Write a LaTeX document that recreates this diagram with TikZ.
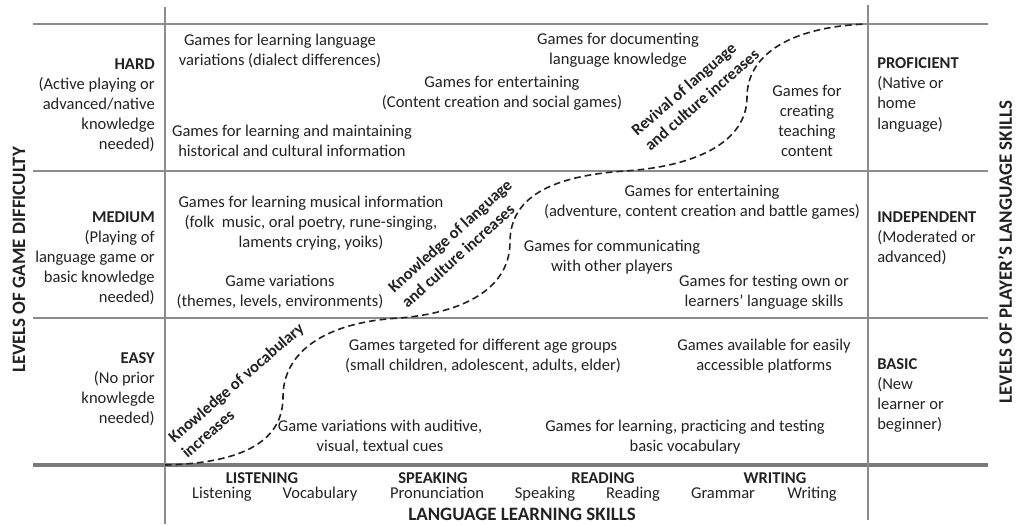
\documentclass[tikz,border=0pt]{standalone}
\usepackage{fontspec}
\setmainfont{Carlito}
\definecolor{ink}{HTML}{222222}
\definecolor{rule}{HTML}{8C8C8C}
\definecolor{baserule}{HTML}{7A7A7A}

\begin{document}
\begin{tikzpicture}[x = 0.75pt, y = -0.75pt,
    every node/.style = {inner sep = 0pt, text = ink, font = \fontsize{12.4}{15}\selectfont},
    game/.style = {align = center},
    level/.style = {align = right, anchor = east},
    skill/.style = {align = left, anchor = west},
    head/.style = {anchor = base, font = \fontsize{12.4}{15}\selectfont\bfseries},
    sub/.style = {anchor = base},
    axis/.style = {font = \fontsize{14.2}{17}\selectfont\bfseries},
    trend/.style = {align = left, anchor = west, font = \fontsize{12.4}{15}\selectfont\bfseries},
    grid/.style = {draw = rule, line width = 2.2pt},
    growth/.style = {draw = ink, line width = 1.2pt, dash pattern = on 5pt off 3pt}]
  \useasboundingbox (0,0) rectangle (1019,524);

  \draw[grid] (33,24) -- (988,24);
  \draw[grid] (33,171) -- (988,171);
  \draw[grid] (33,318) -- (988,318);
  \draw[grid, draw = baserule, line width = 3pt] (33,465) -- (988,465);
  \draw[grid] (165,7) -- (165,524);
  \draw[grid] (868,5) -- (868,520);

  \draw[growth] (165,465) .. controls (245,463) and (283,440) .. (283,397)
    .. controls (283,352) and (325,322) .. (400,318)
    .. controls (470,312) and (510,285) .. (510,242)
    .. controls (510,198) and (550,176) .. (625,171)
    .. controls (700,166) and (747,140) .. (747,97)
    .. controls (747,55) and (790,27) .. (866,24);

  \node[axis, rotate = 90] (difficulty) at (19,260) {LEVELS OF GAME DIFFICULTY};
  \node[axis, rotate = 90] (proficiency) at (1005,252) {LEVELS OF PLAYER'S LANGUAGE SKILLS};
  \node[axis, anchor = base] (skills) at (522,520) {LANGUAGE LEARNING SKILLS};

  \node[level] (hard) at (155,105) {\textbf{HARD}\\(Active playing or\\advanced/native\\knowledge\\needed)};
  \node[level] (medium) at (155,258) {\textbf{MEDIUM}\\(Playing of\\language game or\\basic knowledge\\needed)};
  \node[level] (easy) at (155,389) {\textbf{EASY}\\(No prior\\knowlegde\\needed)};
  \node[skill] (proficient) at (877,95) {\textbf{PROFICIENT}\\(Native or\\home\\language)};
  \node[skill] (independent) at (877,238) {\textbf{INDEPENDENT}\\(Moderated or\\advanced)};
  \node[skill] (basic) at (877,395) {\textbf{BASIC}\\(New\\learner or\\beginner)};

  \node[game] (dialect) at (280,51) {Games for learning language\\variations (dialect differences)};
  \node[game] (social) at (502,93) {Games for entertaining\\(Content creation and social games)};
  \node[game] (history) at (292,141) {Games for learning and maintaining\\historical and cultural information};
  \node[game] (document) at (618,50) {Games for documenting\\language knowledge};
  \node[game] (teaching) at (807,121) {Games for\\creating\\teaching\\content};
  \node[game] (music) at (311,223) {Games for learning musical information\\(folk\ \ music, oral poetry, rune-singing,\\laments crying, yoiks)};
  \node[game] (themes) at (280,292) {Game variations\\(themes, levels, environments)};
  \node[game] (battle) at (702,202) {Games for entertaining\\(adventure, content creation and battle games)};
  \node[game] (players) at (612,257) {Games for communicating\\with other players};
  \node[game] (testing) at (764,292) {Games for testing own or\\learners' language skills};
  \node[game] (ages) at (483,356) {Games targeted for different age groups\\(small children, adolescent, adults, elder)};
  \node[game] (platforms) at (764,356) {Games available for easily\\accessible platforms};
  \node[game] (cues) at (380,437) {Game variations with auditive,\\visual, textual cues};
  \node[game] (vocab) at (685,437) {Games for learning, practicing and testing\\basic vocabulary};

  \node[trend, rotate = 41] (vocabulary) at (177,447) {Knowledge of vocabulary\\increases};
  \node[trend, rotate = 42] (culture) at (397,297) {Knowledge of language\\and culture increases};
  \node[trend, rotate = 41] (revival) at (640,140) {Revival of language\\and culture increases};

  \node[head] (listening) at (262,483) {LISTENING};
  \node[head] (speaking) at (433,483) {SPEAKING};
  \node[head] (reading) at (603,483) {READING};
  \node[head] (writing) at (775,483) {WRITING};
  \node[sub] (listen) at (222,498) {Listening};
  \node[sub] (words) at (320,498) {Vocabulary};
  \node[sub] (pronounce) at (437,498) {Pronunciation};
  \node[sub] (speak) at (545,498) {Speaking};
  \node[sub] (read) at (633,498) {Reading};
  \node[sub] (grammar) at (723,498) {Grammar};
  \node[sub] (write) at (812,498) {Writing};
\end{tikzpicture}
\end{document}
